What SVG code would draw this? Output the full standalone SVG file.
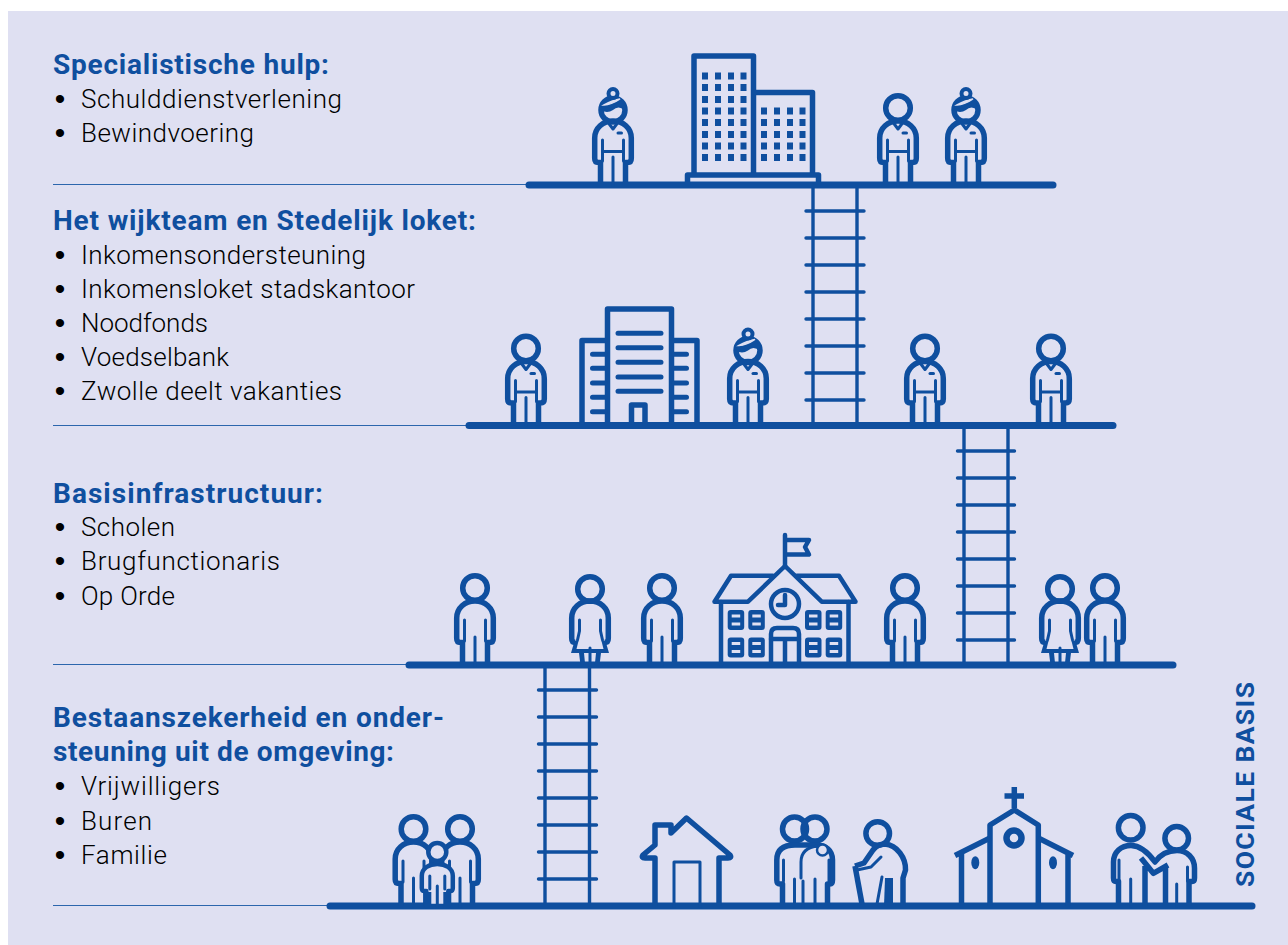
<svg xmlns="http://www.w3.org/2000/svg" xmlns:xlink="http://www.w3.org/1999/xlink" width="1288" height="945" viewBox="0 0 1288 945">
<style>
.h{font:700 28px Roboto,"Liberation Sans",sans-serif;fill:#0f4f9f}
.v{font:700 26.500px Roboto,"Liberation Sans",sans-serif;fill:#0f4f9f}
.t{font:300 26px Roboto,"Liberation Sans",sans-serif;fill:#000}
.b{font:400 30px "Liberation Sans",sans-serif;fill:#000;text-anchor:middle}
.o{fill:none;stroke:#0f4f9f;stroke-width:5.500;stroke-linejoin:round;stroke-linecap:butt}
.m{fill:none;stroke:#0f4f9f;stroke-width:4.500;stroke-linejoin:round;stroke-linecap:round}
.i{fill:none;stroke:#0f4f9f;stroke-width:3;stroke-linecap:round;stroke-linejoin:round}
.f{fill:#0f4f9f}
.bg{fill:#dfe0f2}
.slot{fill:none;stroke:#0f4f9f;stroke-width:5;stroke-linecap:round}
.floor{fill:none;stroke:#0f4f9f;stroke-width:7;stroke-linecap:round}
.thin{fill:none;stroke:#2c66ad;stroke-width:1.200}
.rail{fill:none;stroke:#0f4f9f;stroke-width:3.400}
.rung{fill:none;stroke:#0f4f9f;stroke-width:3.400;stroke-linecap:round}
</style>
<defs>
<path id="torso" class="o" d="M-12.500,0V-22.500H-14.500Q-18.300,-22.500 -18.300,-26.500V-47C-18.300,-57 -10,-64 0,-64C10,-64 18.300,-57 18.300,-47V-26.500Q18.300,-22.500 14.500,-22.500H12.500V0"/>
<path id="limbs" class="i" d="M-10.500,-45V-24M10.500,-45V-24M0,-28V0"/>
<g id="man"><circle class="o" cy="-77" r="12.300"/><use xlink:href="#torso"/><use xlink:href="#limbs"/></g>
<g id="uniform"><path class="i" stroke-width="2.500" d="M-4.500,-62L0,-56L4.500,-62"/><path class="i" stroke-width="2.500" stroke-linecap="butt" d="M-9,-33.500H9"/><path class="i" stroke-width="2.500" d="M5,-52H8.500"/></g>
<g id="worker"><use xlink:href="#man"/><use xlink:href="#uniform"/></g>
<g id="bunhead">
<circle class="o" cy="-75" r="12"/>
<path class="f" d="M-12,-75A12,12 0 0 1 12,-75Q5,-80 0,-75Q-6,-71 -12,-75Z"/>
<path class="bg" d="M-9,-80Q-2,-80 7,-86Q0,-85 -9,-80Z" stroke="#dfe0f2" stroke-width="1.500"/>
<circle fill="#dfe0f2" stroke="#0f4f9f" stroke-width="4" cy="-91.500" r="4.500"/>
</g>
<g id="bunworker"><use xlink:href="#bunhead"/><use xlink:href="#torso"/><use xlink:href="#limbs"/><use xlink:href="#uniform"/></g>
<g id="woman">
<circle class="o" cy="-76" r="12.300"/>
<path class="o" d="M-14.500,-22.500Q-18.300,-22.500 -18.300,-26.500V-47C-18.300,-57 -10,-64 0,-64C10,-64 18.300,-57 18.300,-47V-26.500Q18.300,-22.500 14.500,-22.500"/>
<path class="i" d="M-10.500,-45V-34L-12.500,-25M10.500,-45V-34L12.500,-25M0,-17V0"/>
<path class="f" d="M-19,-12L-15.500,-24H-11.500L-13.500,-16H13.500L11.500,-24H15.500L19,-12H11L9.500,0H4.800L6,-12H-6L-4.800,0H-9.500L-11,-12Z"/>
</g>
<g id="win"><rect class="f" width="16.500" height="20" rx="3"/><rect class="bg" x="4" y="4.500" width="8.500" height="3"/><rect class="bg" x="4" y="12.500" width="8.500" height="3"/></g>
<g id="w4"><rect class="f" width="6" height="7"/><rect class="f" x="13" width="6" height="7"/><rect class="f" x="26" width="6" height="7"/><rect class="f" x="38.500" width="6" height="7"/></g>
</defs>
<rect x="8" y="11" width="1280" height="934" class="bg"/>

<g id="connectors">
<path class="thin" d="M53,184.500H526M53,425.500H466M53,664.500H406M53,905.500H327"/>
<path class="rail" d="M813,187V422M857,187V422M964,428V662M1008,428V662M545,668V903M589.500,668V903"/>
<path class="rung" d="M806,211H864M806,238H864M806,265H864M806,292H864M806,319H864M806,346H864M806,373H864M806,400H864"/>
<path class="rung" d="M957.500,451H1014.500M957.500,478H1014.500M957.500,505H1014.500M957.500,532H1014.500M957.500,559H1014.500M957.500,586H1014.500M957.500,613H1014.500M957.500,640H1014.500"/>
<path class="rung" d="M538.500,690H596.500M538.500,717H596.500M538.500,744H596.500M538.500,771H596.500M538.500,798H596.500M538.500,825H596.500M538.500,852H596.500M538.500,879H596.500"/>
</g>

<g id="level-1">
<text class="h" x="53" y="74" textLength="276">Specialistische hulp:</text>
<text class="b" x="60" y="109">•</text><text class="t" x="81" y="108" textLength="261">Schulddienstverlening</text>
<text class="b" x="60" y="143">•</text><text class="t" x="81" y="142" textLength="173">Bewindvoering</text>
</g>
<g id="level-2">
<text class="h" x="53" y="230" textLength="423">Het wijkteam en Stedelijk loket:</text>
<text class="b" x="60" y="265">•</text><text class="t" x="81" y="264" textLength="285">Inkomensondersteuning</text>
<text class="b" x="60" y="299">•</text><text class="t" x="81" y="298" textLength="334">Inkomensloket stadskantoor</text>
<text class="b" x="60" y="333">•</text><text class="t" x="81" y="332" textLength="127">Noodfonds</text>
<text class="b" x="60" y="367">•</text><text class="t" x="81" y="366" textLength="148">Voedselbank</text>
<text class="b" x="60" y="401">•</text><text class="t" x="81" y="400" textLength="261">Zwolle deelt vakanties</text>
</g>
<g id="level-3">
<text class="h" x="53" y="503" textLength="270">Basisinfrastructuur:</text>
<text class="b" x="60" y="537">•</text><text class="t" x="81" y="536" textLength="94">Scholen</text>
<text class="b" x="60" y="571">•</text><text class="t" x="81" y="570" textLength="199">Brugfunctionaris</text>
<text class="b" x="60" y="606">•</text><text class="t" x="81" y="605" textLength="94">Op Orde</text>
</g>
<g id="level-4">
<text class="h" x="53" y="727" textLength="391">Bestaanszekerheid en onder-</text>
<text class="h" x="53" y="761" textLength="341">steuning uit de omgeving:</text>
<text class="b" x="60" y="796">•</text><text class="t" x="81" y="795" textLength="139">Vrijwilligers</text>
<text class="b" x="60" y="831">•</text><text class="t" x="81" y="830" textLength="71">Buren</text>
<text class="b" x="60" y="865">•</text><text class="t" x="81" y="864" textLength="86">Familie</text>
</g>
<text id="sociale-basis" class="v" transform="translate(1254 887) rotate(-90)" textLength="205">SOCIALE BASIS</text>

<g id="floor-1"><path class="floor" d="M529,185H1053"/></g>
<g id="floor-2"><path class="floor" d="M469,425.500H1113"/></g>
<g id="floor-3"><path class="floor" d="M409,665H1173"/></g>
<g id="floor-4"><path class="floor" d="M330,906H1252"/></g>

<g id="office-towers">
<path class="o" d="M694,175V56H753.500V175M753.500,92.500H812.500V175"/>
<path class="o" d="M687.500,185V175H818.500V185"/>
<use xlink:href="#w4" x="702" y="72.500"/><use xlink:href="#w4" x="702" y="84"/><use xlink:href="#w4" x="702" y="96"/><use xlink:href="#w4" x="702" y="107.500"/><use xlink:href="#w4" x="702" y="119"/><use xlink:href="#w4" x="702" y="131"/><use xlink:href="#w4" x="702" y="142.500"/><use xlink:href="#w4" x="702" y="154"/>
<use xlink:href="#w4" x="761" y="107.500"/><use xlink:href="#w4" x="761" y="119"/><use xlink:href="#w4" x="761" y="131"/><use xlink:href="#w4" x="761" y="142.500"/><use xlink:href="#w4" x="761" y="154"/>
</g>
<g id="person-1a"><use xlink:href="#bunworker" x="613" y="185"/></g>
<g id="person-1b"><use xlink:href="#worker" x="898" y="185"/></g>
<g id="person-1c"><use xlink:href="#bunworker" x="966" y="185"/></g>

<g id="office-block">
<path class="o" d="M607.500,425V309H671.500V425M607.500,340.500H582V425M671.500,340.500H697V425"/>
<path class="slot" d="M618,333.300H661M618,347.700H661M618,362.300H661M618,377H661M618,391.300H661"/>
<path class="slot" d="M592.500,354.300H605M592.500,368.300H605M592.500,383H605M592.500,397.300H605M592.500,411.700H605M674,354.300H686.500M674,368.300H686.500M674,383H686.500M674,397.300H686.500M674,411.700H686.500"/>
<path class="o" d="M631.500,425V405H645V425"/>
</g>
<g id="person-2a"><use xlink:href="#worker" x="526" y="425.500"/></g>
<g id="person-2b"><use xlink:href="#bunworker" x="748" y="425.500"/></g>
<g id="person-2c"><use xlink:href="#worker" x="925" y="425.500"/></g>
<g id="person-2d"><use xlink:href="#worker" x="1051" y="425.500"/></g>

<g id="school">
<path class="m" d="M785,535V567M785,540H809L805,547L809,554.500H785"/>
<path class="m" d="M785,566L748,601.700H714.500L731,575.700H773M785,566L821.700,601.700H855.500L839,575.700H797"/>
<path class="m" d="M721,602V665M848.500,602V665"/>
<circle class="m" cx="785" cy="604" r="14"/>
<path class="m" stroke-width="3" d="M785,595V605H778"/>
<use xlink:href="#win" x="727.700" y="610"/><use xlink:href="#win" x="748.300" y="610"/><use xlink:href="#win" x="805" y="610"/><use xlink:href="#win" x="825.700" y="610"/>
<use xlink:href="#win" x="727.700" y="637.500"/><use xlink:href="#win" x="748.300" y="637.500"/><use xlink:href="#win" x="805" y="637.500"/><use xlink:href="#win" x="825.700" y="637.500"/>
<path class="m" d="M771,665V634Q771,628 777,628H793Q799,628 799,634V665"/>
<path class="m" stroke-width="3" stroke-linecap="butt" d="M771,639H799M785,639V665"/>
</g>
<g id="person-3a"><use xlink:href="#man" x="475" y="665"/></g>
<g id="person-3b"><use xlink:href="#woman" x="590" y="665"/></g>
<g id="person-3c"><use xlink:href="#man" x="662" y="665"/></g>
<g id="person-3d"><use xlink:href="#man" x="905" y="665"/></g>
<g id="person-3e"><use xlink:href="#woman" x="1060" y="665"/></g>
<g id="person-3f"><use xlink:href="#man" x="1105" y="665"/></g>

<g id="family">
<use xlink:href="#man" x="413.500" y="906"/>
<use xlink:href="#man" x="460" y="906"/>
<g transform="translate(437.300 906)">
<path class="bg" stroke="#0f4f9f" stroke-width="4.500" stroke-linejoin="round" d="M-11,0V-15H-13Q-15.500,-15 -15.500,-18V-30C-15.500,-38 -8,-42 0,-42C8,-42 15.500,-38 15.500,-30V-18Q15.500,-15 13,-15H11V0Z"/>
<circle class="bg" stroke="#0f4f9f" stroke-width="4.500" cy="-54" r="9"/>
<path class="i" stroke-width="2.500" d="M-7.500,-30V-17M7.500,-30V-17M0,-20V0"/>
<path class="f" d="M-14,-14H-6V0H-14ZM6,-14H14V0H6Z"/>
</g>
</g>

<g id="house">
<path class="o" d="M655,906V858H645Q641,858 643,855L655,845V825H671V833L686.500,818L730,855Q732,858 728,858H719V906"/>
<path class="i" stroke-linecap="butt" d="M674,906V862H700V906"/>
</g>

<g id="couple">
<circle class="o" cx="794.500" cy="829" r="12"/>
<circle class="o" cx="815" cy="829" r="12"/>
<path class="o" d="M782.500,906V884H780Q776.800,884 776.800,880V860C776.800,850 783,845 795,845H815C826,845 832.500,850 832.500,860V880Q832.500,884 830,884H827.500V906"/>
<path class="i" d="M801,878V862C801,852 808,847 818,846"/>
<path class="i" d="M783.500,860V881M829,860V881M794.500,879V906M815,879V906M803,881V906"/>
<circle class="bg" stroke="#0f4f9f" stroke-width="2.500" cx="822.500" cy="850" r="5.500"/>
</g>

<g id="elder">
<circle class="o" cx="877.700" cy="833.500" r="11.800"/>
<path class="o" d="M903,906V878L905.500,870C906,858 897,845 885,844C880,844 876,846 873,850L864,863L855,866"/>
<path class="o" stroke-width="4.500" d="M855,866L862,904"/>
<path class="i" d="M857,870L871,867L881,857M882,877L877,904"/>
<path class="f" d="M885,878H893V906H884Z"/>
</g>

<g id="church">
<path class="o" d="M1014.300,787V808M1004.500,796H1024" stroke-linecap="round"/>
<path class="o" d="M990,906V825L1014.300,810L1038.300,825V906"/>
<path class="o" d="M990,838L955,855.500M1038.300,838L1073,855.500M961.500,853V906M1068,853V906"/>
<circle fill="none" stroke="#0f4f9f" stroke-width="6.500" cx="1014" cy="838" r="7.500"/>
<ellipse class="f" cx="975.300" cy="862.700" rx="4" ry="6.500"/>
<ellipse class="f" cx="1053" cy="862.700" rx="4" ry="6.500"/>
</g>

<g id="pair">
<circle class="o" cx="1130.700" cy="827.700" r="12.300"/>
<circle class="o" cx="1176.700" cy="838.300" r="11.800"/>
<path class="o" d="M1118.500,906V881.500H1116Q1113.500,881.500 1113.500,878V862C1113.500,852 1121,845.500 1131,845.500C1140,845.500 1147,851 1155,862C1160,855 1167,850.500 1177,850.500C1187,850.500 1194.500,858 1194.500,868V878Q1194.500,881.500 1192,881.500H1189V906"/>
<path class="i" d="M1119,860V881M1130.700,879V906M1176.700,884V906M1187.500,867V881"/>
<path class="o" d="M1141,858L1153.300,873.300L1168,865M1145,866V906M1165.500,866V906"/>
</g>
</svg>
